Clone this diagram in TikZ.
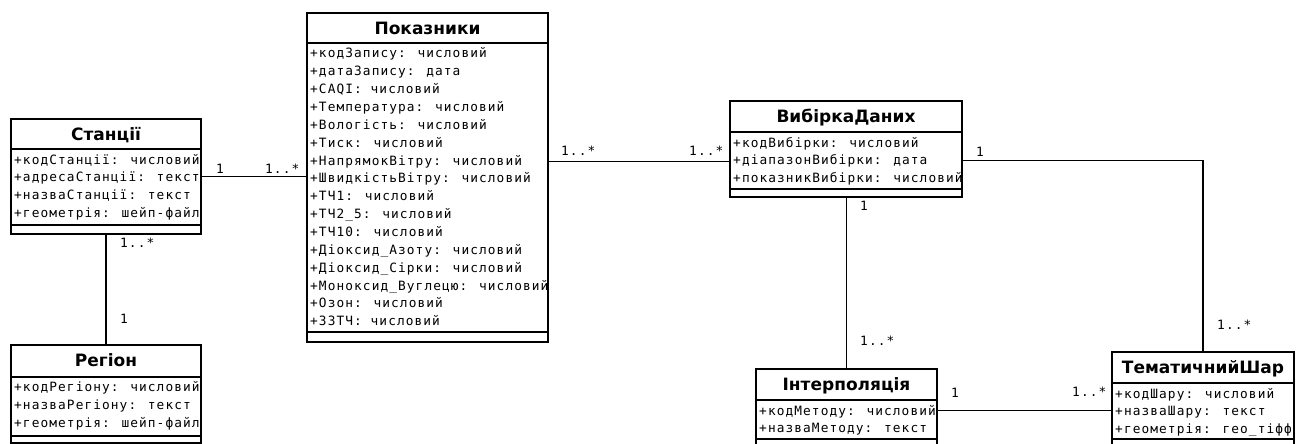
\documentclass[tikz,border=0pt]{standalone}
\usepackage{fontspec}
\newfontfamily\titlefont{DejaVu Sans}
\newfontfamily\attrfont[LetterSpace=8.5]{DejaVu Sans Mono}

\tikzset{
  classbox/.style={draw=black, line width=2pt, fill=white, inner sep=0pt, outer sep=0pt},
  classline/.style={line width=2pt},
  titletext/.style={font=\titlefont\bfseries\fontsize{17}{20}\selectfont, anchor=base, inner sep=0pt},
  attrtext/.style={font=\attrfont\fontsize{12.8}{14}\selectfont, anchor=base west, inner sep=0pt},
  mult/.style={font=\attrfont\fontsize{12.8}{14}\selectfont, anchor=base west, inner sep=0pt},
  assoc/.style={line width=1.8pt}
}

% UML class: name, left, top, right, title/attribute divider, attribute/method divider, bottom, title, attributes
\newcommand\umlclass[9]{%
  \node[classbox, minimum width={#4-#2}, minimum height={#7-#3}, anchor=north west] (#1) at (#2,#3) {};
  \draw[classline] (#2,#5) -- (#4,#5);
  \draw[classline] (#2,#6) -- (#4,#6);
  \node[titletext] (#1-title) at ({(#2+#4)/2},{(#3+#5)/2+6.2}) {#8};
  \foreach \lbl [count=\i] in {#9}
    \node[attrtext] (#1-a\i) at (#2+3,{#5+15+(\i-1)*17.85}) {\lbl};
}

\begin{document}
\begin{tikzpicture}[x=1pt, y=-1pt]
  \useasboundingbox (0,0) rectangle (1302,444);
  \clip (0,0) rectangle (1302,444);
  \fill[white] (0,0) rectangle (1302,444);

  \umlclass{st}{11}{119}{201}{149}{225}{234}{Станції}%
    {+кодСтанції: числовий, +адресаСтанції: текст, +назваСтанції: текст, +геометрія: шейп-файл}
  \umlclass{reg}{11}{345}{201}{376.5}{436}{443}{Регіон}%
    {+кодРегіону: числовий, +назваРегіону: текст, +геометрія: шейп-файл}
  \umlclass{pok}{307}{13}{548}{43}{332}{342}{Показники}%
    {+кодЗапису: числовий, +датаЗапису: дата, +CAQI: числовий, +Температура: числовий,
     +Вологість: числовий, +Тиск: числовий, +НапрямокВітру: числовий, +ШвидкістьВітру: числовий,
     +ТЧ1: числовий, +ТЧ2\_5: числовий, +ТЧ10: числовий, +Діоксид\_Азоту: числовий,
     +Діоксид\_Сірки: числовий, +Моноксид\_Вуглецю: числовий, +Озон: числовий, +ЗЗТЧ: числовий}
  \umlclass{vyb}{730}{101}{962}{132}{189}{197}{ВибіркаДаних}%
    {+кодВибірки: числовий, +діапазонВибірки: дата, +показникВибірки: числовий}
  \umlclass{int}{756}{369}{937}{400}{439}{448}{Інтерполяція}%
    {+кодМетоду: числовий, +назваМетоду: текст}
  \umlclass{tem}{1112}{352}{1294}{383}{438.5}{447}{ТематичнийШар}%
    {+кодШару: числовий, +назваШару: текст, +геометрія: гео\_тіфф}

  % heights of the horizontal associations
  \coordinate (ySt) at (0,176.5);
  \coordinate (yPok) at (0,161.5);
  \coordinate (yVyb) at (0,160.5);
  \coordinate (yInt) at (0,410.5);

  % associations
  \draw[assoc] (st.east |- ySt) -- (pok.west |- ySt);
  \draw[assoc] (st.south) -- (reg.north);
  \draw[assoc] (pok.east |- yPok) -- (vyb.west |- yPok);
  \draw[assoc] (vyb.east |- yVyb) -| (tem.north);
  \draw[assoc] (int.north |- vyb.south) -- (int.north);
  \draw[assoc] (int.east |- yInt) -- (tem.west |- yInt);

  % multiplicities
  \node[mult] (m1) at (216,173) {1};
  \node[mult] (m2) at (265,173) {1..*};
  \node[mult] (m3) at (120,247) {1..*};
  \node[mult] (m4) at (120,323) {1};
  \node[mult] (m5) at (561,155.5) {1..*};
  \node[mult] (m6) at (689,155.5) {1..*};
  \node[mult] (m7) at (976,156.5) {1};
  \node[mult] (m8) at (1217,329) {1..*};
  \node[mult] (m9) at (860,210.5) {1};
  \node[mult] (m10) at (860,345.5) {1..*};
  \node[mult] (m11) at (951,397) {1};
  \node[mult] (m12) at (1072,396) {1..*};
\end{tikzpicture}
\end{document}
